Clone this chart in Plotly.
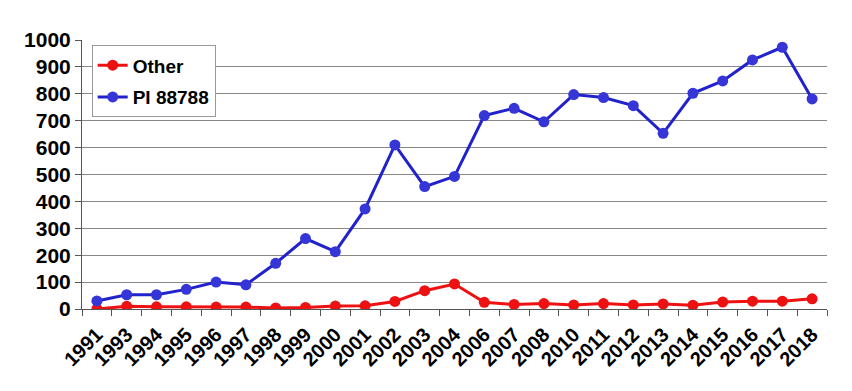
import plotly.graph_objects as go

years = ["1991", "1993", "1994", "1995", "1996", "1997", "1998", "1999", "2000",
         "2001", "2002", "2003", "2004", "2006", "2007", "2008", "2010", "2011",
         "2012", "2013", "2014", "2015", "2016", "2017", "2018"]
other = [0, 10, 8, 8, 7, 7, 4, 6, 11, 12, 28, 68, 93, 25, 17, 20, 15, 20,
         15, 19, 14, 26, 29, 29, 38]
pi88788 = [30, 53, 53, 73, 100, 90, 170, 262, 213, 372, 610, 455, 493, 719,
           746, 696, 797, 786, 756, 653, 802, 848, 926, 973, 781]

fig = go.Figure()
fig.add_trace(go.Scatter(x=years, y=other, name="Other", mode="lines+markers",
                         legendgroup="a",
                         line=dict(color="#ee1111", width=3),
                         marker=dict(color="#ee1111", size=11)))
fig.add_trace(go.Scatter(x=years, y=pi88788, name="PI 88788", mode="lines+markers",
                         legendgroup="b",
                         line=dict(color="#2222cc", width=3),
                         marker=dict(color="#3535d8", size=11)))

font_fam = "Liberation Sans, Arial, sans-serif"
fig.update_layout(
    width=852, height=391,
    margin=dict(l=74, r=33, t=32, b=90),
    paper_bgcolor="white", plot_bgcolor="white",
    showlegend=True,
    legend=dict(x=0.013, y=0.98, xanchor="left", yanchor="top",
                bgcolor="white", bordercolor="#999999", borderwidth=1,
                font=dict(family=font_fam, size=19, color="black", weight="bold"),
                itemwidth=30, traceorder="grouped", tracegroupgap=4),
    xaxis=dict(type="category", range=[-0.5, len(years) - 0.5],
               tickson="boundaries", ticks="outside", ticklen=6,
               tickcolor="#555555", showline=True, linecolor="#555555", linewidth=1,
               showgrid=False, tickangle=-45, automargin=False, ticklabelstandoff=5,
               tickfont=dict(family=font_fam, size=20, color="black", weight="bold")),
    yaxis=dict(range=[0, 1000], dtick=100, ticks="outside", ticklen=6,
               tickcolor="#555555", showline=True, linecolor="#555555", linewidth=1,
               showgrid=True, gridcolor="#888888", gridwidth=1, zeroline=False,
               automargin=False,
               tickfont=dict(family=font_fam, size=21, color="black", weight="bold")),
)

fig.write_html("out.html")
